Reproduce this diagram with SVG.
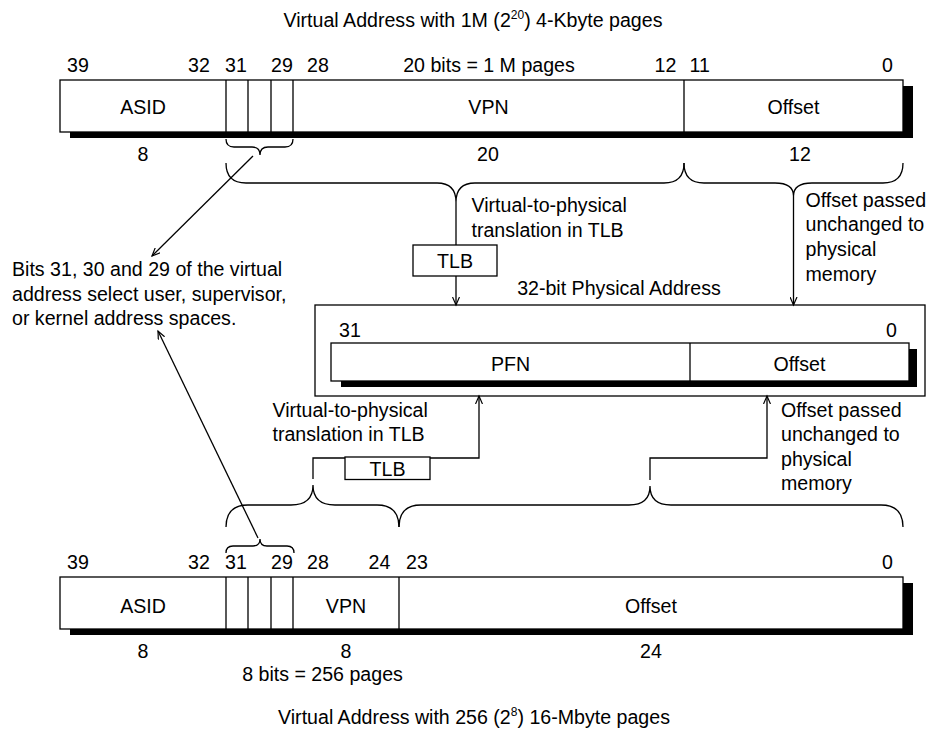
<svg xmlns="http://www.w3.org/2000/svg" width="929" height="734" viewBox="0 0 929 734">
<defs>
<marker id="arr" markerWidth="10" markerHeight="8" refX="8" refY="4" orient="auto" markerUnits="userSpaceOnUse"><path d="M0,0.5 L8,4 L0,7.5" fill="none" stroke="#000" stroke-width="1.2"/></marker>
</defs>
<style>
text{font-family:"Liberation Sans",Arial,sans-serif;font-size:19.6px;fill:#000}
.m{text-anchor:middle}
.box{fill:#fff;stroke:#000;stroke-width:1.3}
.shadow{fill:#000}
.ln{fill:none;stroke:#000;stroke-width:1.3}
</style>
<rect x="0" y="0" width="929" height="734" fill="#fff"/>

<g id="title-top">
<text x="473" y="27" class="m">Virtual Address with 1M (2<tspan font-size="12" dy="-8">20</tspan><tspan dy="8">) 4-Kbyte pages</tspan></text>
</g>

<g id="va-4k">
<text x="67" y="72">39</text>
<text x="188" y="72">32</text>
<text x="225" y="72">31</text>
<text x="271" y="72">29</text>
<text x="307" y="72">28</text>
<text x="489" y="72" class="m">20 bits = 1 M pages</text>
<text x="654.5" y="72">12</text>
<text x="689.5" y="72">11</text>
<text x="882" y="72">0</text>
<rect class="shadow" x="70" y="86" width="843" height="52"/>
<rect class="box" x="60" y="80" width="843" height="52"/>
<path class="ln" d="M226,80V132M248,80V132M271,80V132M293,80V132M684,80V132"/>
<text x="143" y="114" class="m">ASID</text>
<text x="488.5" y="114" class="m">VPN</text>
<text x="793.5" y="114" class="m">Offset</text>
<text x="143" y="161" class="m">8</text>
<text x="488" y="161" class="m">20</text>
<text x="800" y="161" class="m">12</text>
</g>

<g id="tlb-top">
<rect class="box" x="413" y="245" width="84" height="31"/>
<text x="455" y="267.5" class="m">TLB</text>
</g>
<g id="label-top-translation">
<text x="471.5" y="211.7">Virtual-to-physical</text>
<text x="471.5" y="236.7">translation in TLB</text>
</g>
<g id="label-top-offset">
<text x="805.5" y="206.7">Offset passed</text>
<text x="805.5" y="231.4">unchanged to</text>
<text x="805.5" y="256.1">physical</text>
<text x="805.5" y="280.8">memory</text>
</g>

<g id="note">
<text x="12" y="276">Bits 31, 30 and 29 of the virtual</text>
<text x="12" y="300.5">address select user, supervisor,</text>
<text x="12" y="325">or kernel address spaces.</text>
</g>

<g id="pa">
<text x="619" y="295" class="m">32-bit Physical Address</text>
<rect class="box" x="315" y="305" width="610" height="91"/>
<text x="339" y="337">31</text>
<text x="886" y="337">0</text>
<rect class="shadow" x="341" y="349" width="576" height="38"/>
<rect class="box" x="331" y="343" width="578" height="38"/>
<path class="ln" d="M690,343V381"/>
<text x="510.5" y="370.5" class="m">PFN</text>
<text x="799.5" y="370.5" class="m">Offset</text>
</g>

<g id="label-bottom-translation">
<text x="272.5" y="416.7">Virtual-to-physical</text>
<text x="272.5" y="440.5">translation in TLB</text>
</g>
<g id="tlb-bottom">
<rect class="box" x="345" y="457" width="85" height="22.5"/>
<text x="387.5" y="475.5" class="m">TLB</text>
</g>
<g id="label-bottom-offset">
<text x="781" y="417">Offset passed</text>
<text x="781" y="441.3">unchanged to</text>
<text x="781" y="465.6">physical</text>
<text x="781" y="490">memory</text>
</g>

<g id="va-16m">
<text x="67" y="569">39</text>
<text x="188" y="569">32</text>
<text x="225" y="569">31</text>
<text x="271" y="569">29</text>
<text x="307" y="569">28</text>
<text x="368.5" y="569">24</text>
<text x="406" y="569">23</text>
<text x="882" y="569">0</text>
<rect class="shadow" x="70" y="583" width="843" height="52"/>
<rect class="box" x="60" y="577" width="843" height="52"/>
<path class="ln" d="M226,577V629M248,577V629M271,577V629M293,577V629M399,577V629"/>
<text x="143" y="612.7" class="m">ASID</text>
<text x="346" y="612.7" class="m">VPN</text>
<text x="651" y="612.7" class="m">Offset</text>
<text x="143" y="657.5" class="m">8</text>
<text x="346" y="657.5" class="m">8</text>
<text x="651" y="657.5" class="m">24</text>
<text x="322.5" y="680.5" class="m">8 bits = 256 pages</text>
</g>

<g id="title-bottom">
<text x="474" y="724" class="m">Virtual Address with 256 (2<tspan font-size="12" dy="-8">8</tspan><tspan dy="8">) 16-Mbyte pages</tspan></text>
</g>

<g id="connectors">
<path class="ln" d="M226,139Q226,147 234,147L252,147Q260,147 260,155Q260,147 268,147L285,147Q293,147 293,139"/>
<path class="ln" d="M226,163Q226,183 246,183L437,183Q456,183 456,202Q456,183 475,183L664,183Q684,183 684,163"/>
<path class="ln" d="M684,163Q684,183 704,183L775,183Q793.5,183 793.5,196Q793.5,183 812,183L883,183Q903,183 903,163"/>
<path class="ln" d="M456,202V245"/>
<path class="ln" d="M456,276V305" marker-end="url(#arr)"/>
<path class="ln" d="M793.5,196V305" marker-end="url(#arr)"/>
<path class="ln" d="M253,156L152,256" marker-end="url(#arr)"/>
<path class="ln" d="M258,538L158,331" marker-end="url(#arr)"/>
<path class="ln" d="M313,479V458H345"/>
<path class="ln" d="M430,458H479V396" marker-end="url(#arr)"/>
<path class="ln" d="M650,480V458H767V396" marker-end="url(#arr)"/>
<path class="ln" d="M226,527Q226,505 248,505L291,505Q313,505 313,485Q313,505 335,505L377,505Q399,505 399,527"/>
<path class="ln" d="M399,527Q399,505 421,505L629,505Q650,505 650,486Q650,505 671,505L881,505Q903,505 903,527"/>
<path class="ln" d="M226,553Q226,546 233,546L253,546Q260,546 260,539Q260,546 267,546L287,546Q294,546 294,553"/>
</g>
</svg>
